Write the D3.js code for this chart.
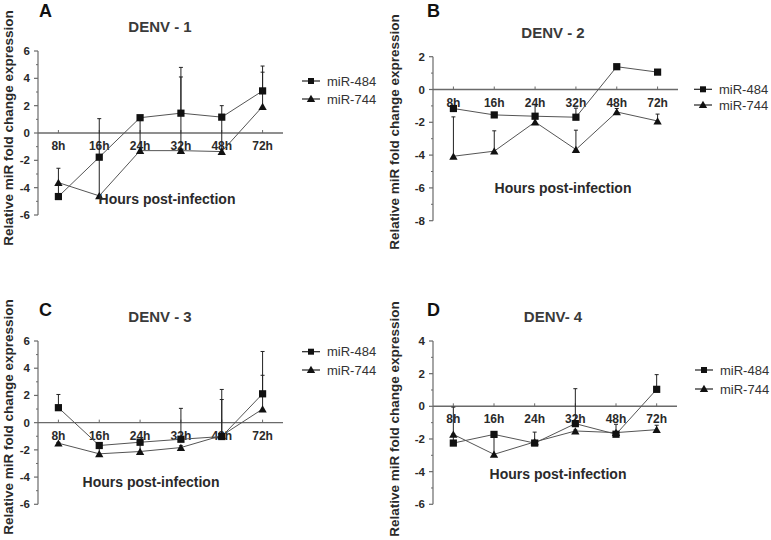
<!DOCTYPE html>
<html><head><meta charset="utf-8">
<script src="https://cdn.jsdelivr.net/npm/d3@7"></script>
<style>body{margin:0;background:#fff}svg{display:block}</style>
</head><body>
<svg id="chart" width="771" height="540"></svg>
<script>
// ---- data ----
const categories = ["8h","16h","24h","32h","48h","72h"];
const seriesNames = ["miR-484","miR-744"];
const panelLetters = ["A","B","C","D"];
const panelTitles = ["DENV - 1","DENV - 2","DENV - 3","DENV- 4"];
const xAxisTitle = "Hours post-infection";
const yAxisTitle = "Relative miR fold change expression";

const yTicksA = [-6,-4,-2,0,2,4,6];
const yTicksB = [-8,-6,-4,-2,0,2];
const yTicksC = [-6,-4,-2,0,2,4,6];
const yTicksD = [-6,-4,-2,0,2,4];

const denv1_mir484 = [-4.65,-1.77,1.12,1.45,1.16,3.08];
const denv1_mir744 = [-3.63,-4.6,-1.29,-1.29,-1.36,1.94];
const denv1_mir484_err = [-3.7,1.05,1.2,4.8,2.0,4.9];
const denv1_mir744_err = [-2.58,-1.8,1.0,4.1,1.2,4.45];

const denv2_mir484 = [-1.16,-1.55,-1.63,-1.69,1.39,1.06];
const denv2_mir744 = [-4.07,-3.76,-1.98,-3.66,-1.37,-1.92];
const denv2_mir484_err = [-1.1,-1.5,-0.9,-1.14,1.45,1.1];
const denv2_mir744_err = [-1.67,-2.52,-1.7,-2.48,-1.16,-1.5];

const denv3_mir484 = [1.1,-1.68,-1.44,-1.22,-1.02,2.12];
const denv3_mir744 = [-1.51,-2.29,-2.12,-1.83,-0.95,1.0];
const denv3_mir484_err = [2.07,-1.6,-1.4,1.05,2.44,5.23];
const denv3_mir744_err = [-1.45,-1.75,-1.5,-1.7,1.7,3.48];

const denv4_mir484 = [-2.25,-1.72,-2.25,-1.06,-1.71,1.04];
const denv4_mir744 = [-1.72,-2.94,-2.18,-1.51,-1.61,-1.43];
const denv4_mir484_err = [-1.7,-1.65,-1.58,1.08,-1.6,1.94];
const denv4_mir744_err = [-0.05,-1.72,-2.1,-1.45,-1.1,-1.16];

// ---- layout ----
const panels = [
  {ticks:yTicksA, s1:denv1_mir484, s2:denv1_mir744, e1:denv1_mir484_err, e2:denv1_mir744_err,
   x0:38, x1:283, yT:51, yB:215,
   letter:[39,17], title:[160,32], xt:[167,204], yl:[13,128], leg:[302,81,99]},
  {ticks:yTicksB, s1:denv2_mir484, s2:denv2_mir744, e1:denv2_mir484_err, e2:denv2_mir744_err,
   x0:433, x1:678, yT:56.7, yB:220.7,
   letter:[427,17], title:[553,38], xt:[563,193], yl:[399,132], leg:[694,89.3,105]},
  {ticks:yTicksC, s1:denv3_mir484, s2:denv3_mir744, e1:denv3_mir484_err, e2:denv3_mir744_err,
   x0:38, x1:283, yT:341, yB:504.3,
   letter:[39,316], title:[160,322], xt:[151,487], yl:[13,417], leg:[302,351.7,370]},
  {ticks:yTicksD, s1:denv4_mir484, s2:denv4_mir744, e1:denv4_mir484_err, e2:denv4_mir744_err,
   x0:433, x1:677, yT:341, yB:504.3,
   letter:[427,316], title:[553,322], xt:[558,479], yl:[399,419], leg:[695,370,389]}
];

const svg = d3.select("#chart");
const font = "'Liberation Sans', Arial, sans-serif";
const axisCol = "#6a6a6a", lineCol = "#555", markCol = "#111", textCol = "#2a2a2a";

const sqr = d3.symbol().type(d3.symbolSquare).size(52);
const tri = d3.symbol().type(d3.symbolTriangle).size(30);

panels.forEach((p, i) => {
  const g = svg.append("g");
  const ext = d3.extent(p.ticks);
  const y = d3.scaleLinear().domain([ext[1], ext[0]]).range([p.yT, p.yB]);
  const x = d3.scalePoint().domain(categories).range([p.x0, p.x1]).padding(0.5);

  // y axis
  const minor = d3.range(ext[0] + 1, ext[1], 2);
  g.append("line").attr("x1", p.x0).attr("x2", p.x0).attr("y1", y(ext[1])).attr("y2", y(ext[0]))
    .attr("stroke", axisCol).attr("stroke-width", 1.2);
  g.selectAll(".mj").data(p.ticks).join("line")
    .attr("x1", p.x0 - 4).attr("x2", p.x0).attr("y1", d => y(d)).attr("y2", d => y(d))
    .attr("stroke", axisCol).attr("stroke-width", 1.2);
  g.selectAll(".mn").data(minor).join("line").attr("class","mn")
    .attr("x1", p.x0 - 2).attr("x2", p.x0).attr("y1", d => y(d)).attr("y2", d => y(d))
    .attr("stroke", axisCol).attr("stroke-width", 1);
  g.selectAll(".yl").data(p.ticks).join("text").attr("class","yl")
    .attr("x", p.x0 - 8).attr("y", d => y(d) + 4)
    .attr("text-anchor", "end").attr("font-family", font).attr("font-weight", "bold")
    .attr("font-size", 11.5).attr("fill", textCol).text(d => d);

  // x axis at zero
  g.append("line").attr("x1", p.x0).attr("x2", p.x1).attr("y1", y(0)).attr("y2", y(0))
    .attr("stroke", axisCol).attr("stroke-width", 1.4);
  g.selectAll(".xtk").data(categories).join("line").attr("class","xtk")
    .attr("x1", d => x(d)).attr("x2", d => x(d)).attr("y1", y(0)).attr("y2", y(0) - 3)
    .attr("stroke", axisCol);
  g.selectAll(".xl").data(categories).join("text").attr("class","xl")
    .attr("x", d => x(d)).attr("y", y(0) + 17)
    .attr("text-anchor", "middle").attr("font-family", font).attr("font-weight", "bold")
    .attr("font-size", 12).attr("fill", textCol).text(d => d);

  // error bars
  const drawErr = (vals, errs) => {
    categories.forEach((c, k) => {
      const e = errs[k];
      if (e == null) return;
      g.append("line").attr("x1", x(c)).attr("x2", x(c)).attr("y1", y(vals[k])).attr("y2", y(e))
        .attr("stroke", "#222").attr("stroke-width", 1);
      g.append("line").attr("x1", x(c) - 2).attr("x2", x(c) + 2).attr("y1", y(e)).attr("y2", y(e))
        .attr("stroke", "#222").attr("stroke-width", 1);
    });
  };
  drawErr(p.s1, p.e1);
  drawErr(p.s2, p.e2);

  // lines
  const line = d3.line().x((d, k) => x(categories[k])).y(d => y(d));
  [p.s1, p.s2].forEach(s => {
    g.append("path").attr("d", line(s)).attr("fill", "none").attr("stroke", lineCol).attr("stroke-width", 1);
  });
  // markers
  g.selectAll(".sq").data(p.s1).join("path").attr("class","sq")
    .attr("transform", (d, k) => `translate(${x(categories[k])},${y(d)})`)
    .attr("d", sqr).attr("fill", markCol);
  g.selectAll(".tr").data(p.s2).join("path").attr("class","tr")
    .attr("transform", (d, k) => `translate(${x(categories[k])},${y(d) + 1})`)
    .attr("d", tri).attr("fill", markCol);

  // texts
  g.append("text").attr("x", p.letter[0]).attr("y", p.letter[1]).attr("font-family", font)
    .attr("font-weight", "bold").attr("font-size", 18).attr("fill", "#111").text(panelLetters[i]);
  g.append("text").attr("x", p.title[0]).attr("y", p.title[1]).attr("text-anchor", "middle")
    .attr("font-family", font).attr("font-weight", "bold").attr("font-size", 15)
    .attr("fill", "#3a3a3a").text(panelTitles[i]);
  g.append("text").attr("x", p.xt[0]).attr("y", p.xt[1]).attr("text-anchor", "middle")
    .attr("font-family", font).attr("font-weight", "bold").attr("font-size", 14)
    .attr("fill", textCol).text(xAxisTitle);
  g.append("text").attr("transform", `translate(${p.yl[0]},${p.yl[1]}) rotate(-90)`)
    .attr("text-anchor", "middle").attr("font-family", font).attr("font-weight", "bold")
    .attr("font-size", 13.5).attr("fill", textCol).text(yAxisTitle);

  // legend
  [p.leg[1], p.leg[2]].forEach((ly, k) => {
    g.append("line").attr("x1", p.leg[0]).attr("x2", p.leg[0] + 18).attr("y1", ly).attr("y2", ly)
      .attr("stroke", "#222").attr("stroke-width", 1.2);
    g.append("path").attr("transform", `translate(${p.leg[0] + 9},${ly + (k ? 0.5 : 0)})`)
      .attr("d", k ? tri : d3.symbol().type(d3.symbolSquare).size(36)).attr("fill", markCol);
    g.append("text").attr("x", p.leg[0] + 25).attr("y", ly + 4.5).attr("font-family", font)
      .attr("font-size", 13).attr("fill", "#333").text(seriesNames[k]);
  });
});
</script>
</body></html>
